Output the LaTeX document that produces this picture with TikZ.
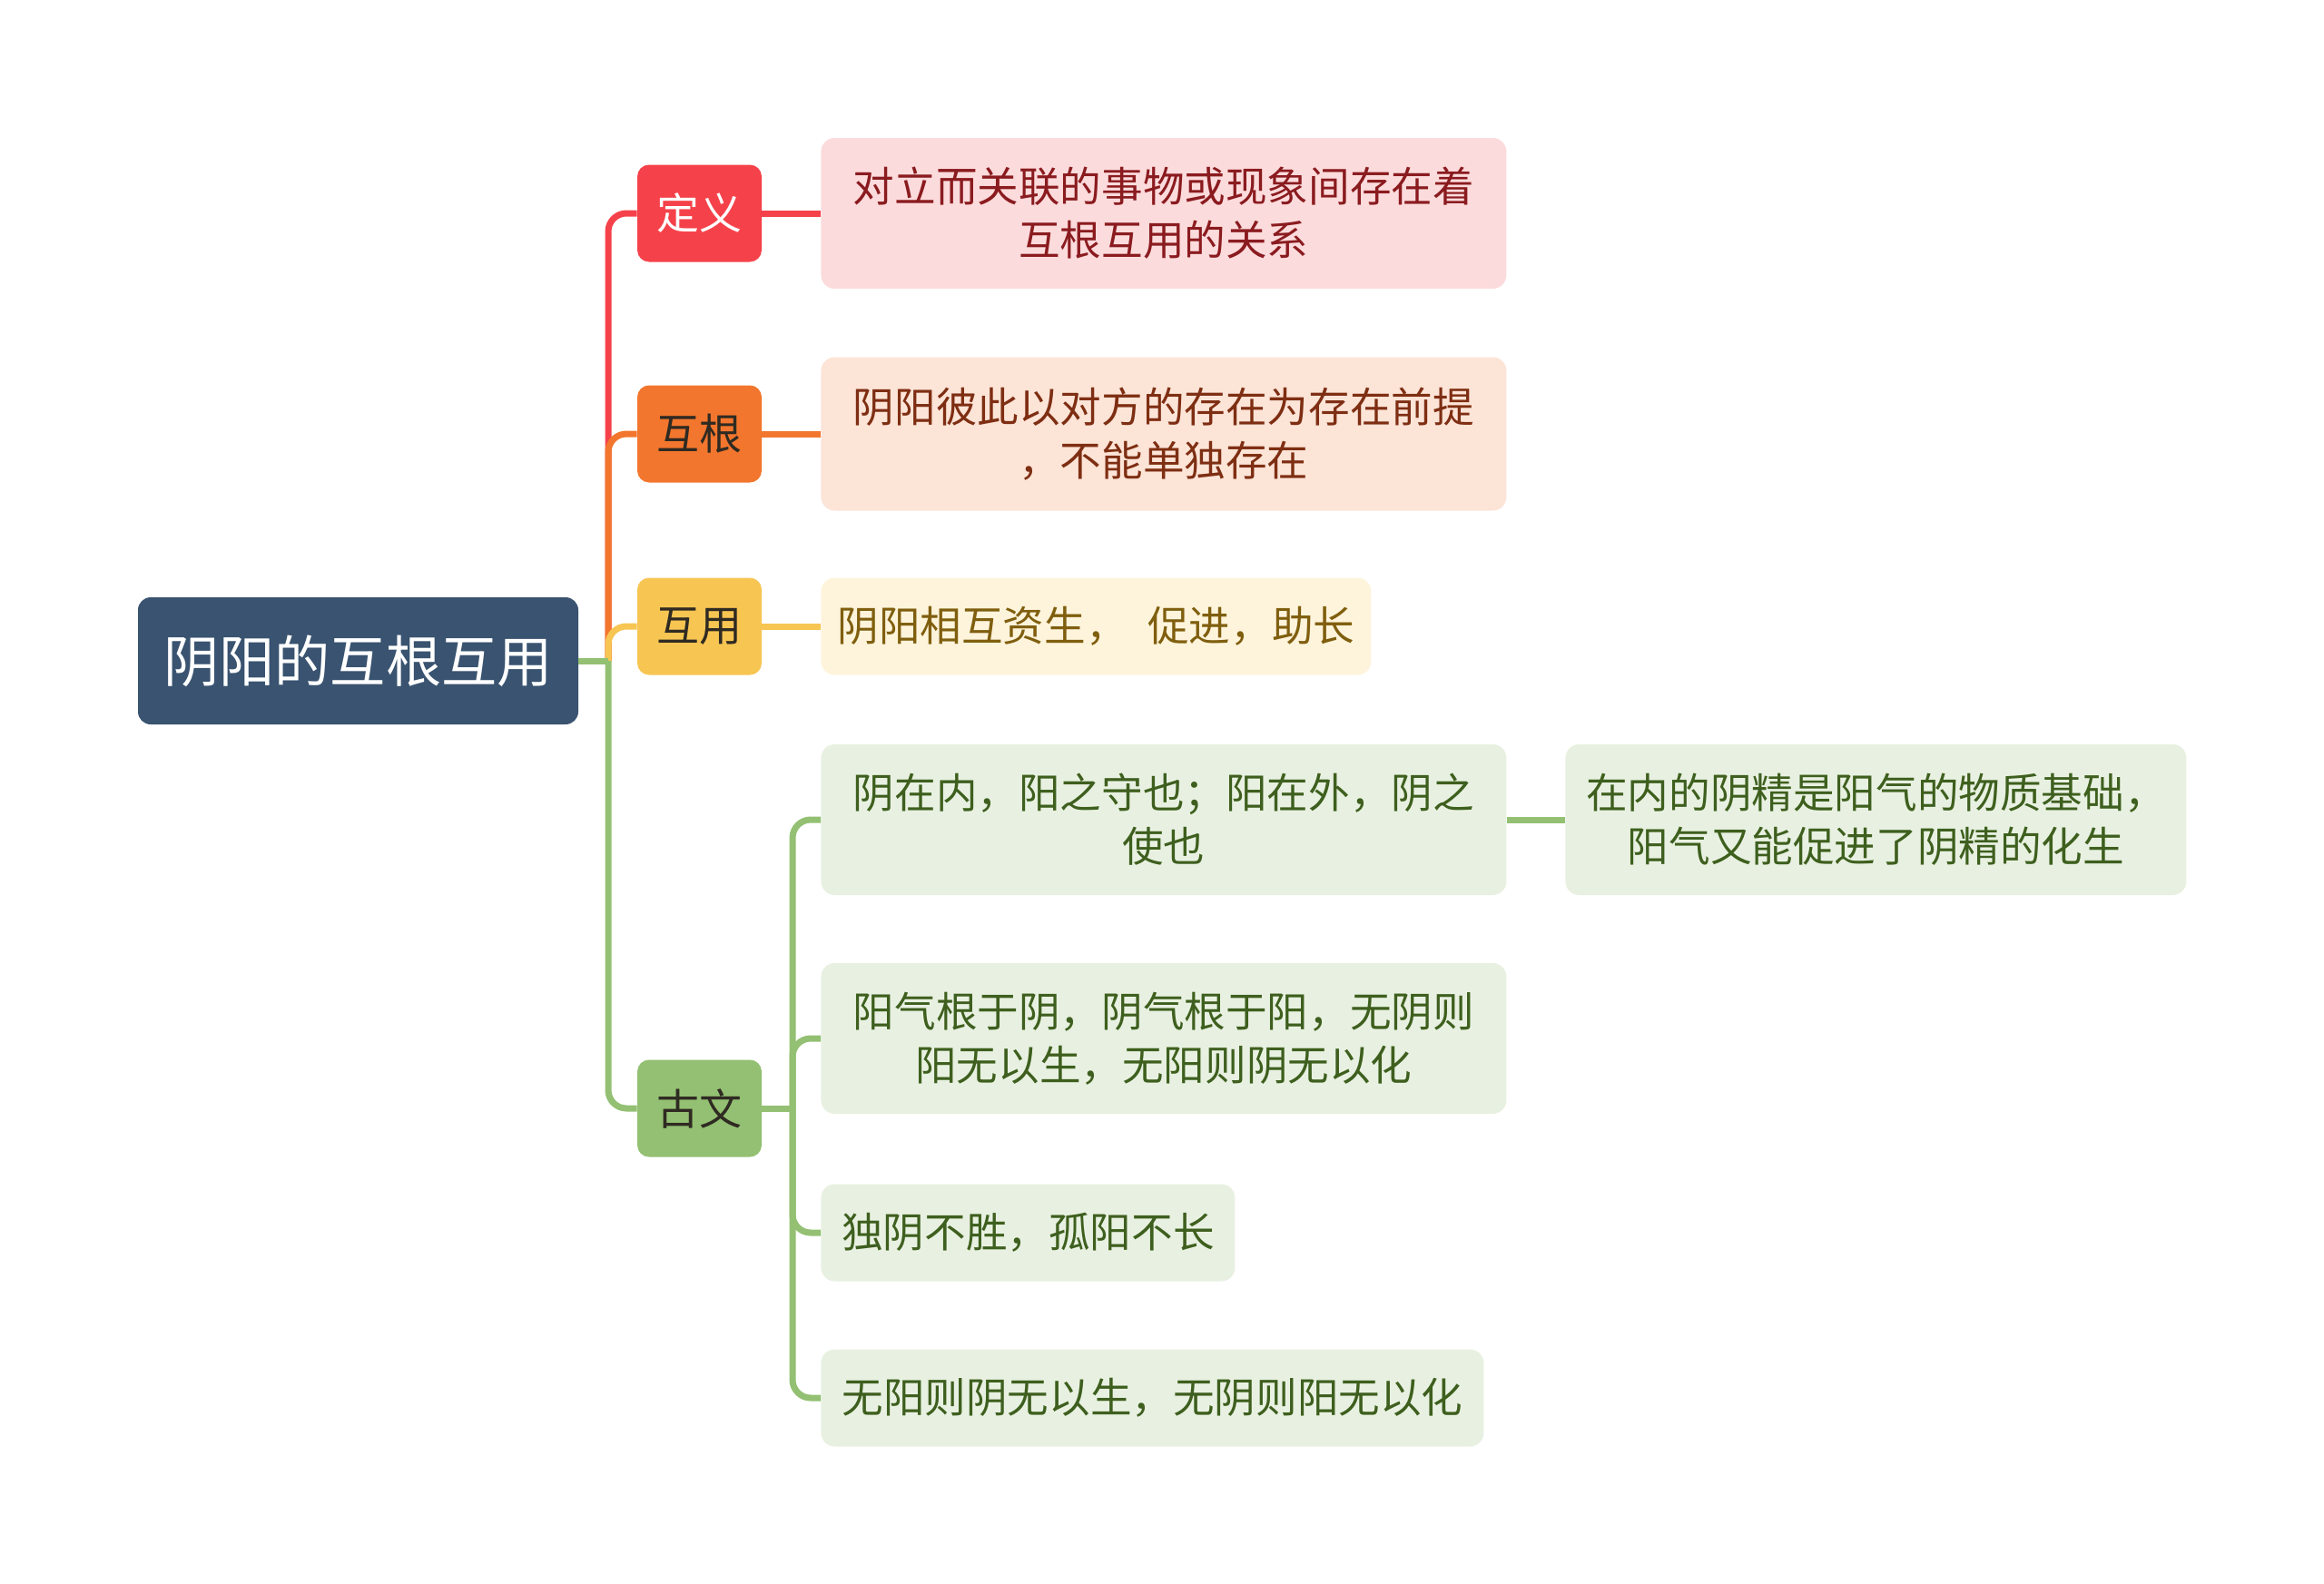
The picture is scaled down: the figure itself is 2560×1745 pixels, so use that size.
\documentclass[tikz,border=0pt]{standalone}
\usepackage{fontspec}
\newfontfamily\cjk{Noto Sans CJK SC}
\usepackage{tikz}
\usetikzlibrary{positioning}
\definecolor{cRoot}{HTML}{395370}
\definecolor{cDark}{HTML}{2F2A22}
\definecolor{cDef}{HTML}{F5424A}
\definecolor{cDefL}{HTML}{FCDBDC}
\definecolor{cDefT}{HTML}{8A1B1F}
\definecolor{cHg}{HTML}{F2762D}
\definecolor{cHgL}{HTML}{FCE4D7}
\definecolor{cHgT}{HTML}{7E2E12}
\definecolor{cHy}{HTML}{F7C552}
\definecolor{cHyL}{HTML}{FEF4DB}
\definecolor{cHyT}{HTML}{7F5E0E}
\definecolor{cGw}{HTML}{93C072}
\definecolor{cGwL}{HTML}{E8F1E1}
\definecolor{cGwT}{HTML}{3E5F1E}

\begin{document}
\begin{tikzpicture}[x=0.5pt,y=-0.5pt,
  rt/.style={rectangle,rounded corners=7pt,fill=cRoot,text=white,minimum width=242.5pt,minimum height=70pt,font=\cjk\fontsize{30.6}{36}\selectfont},
  tp/.style={rectangle,rounded corners=6.5pt,fill=#1,minimum width=68.5pt,minimum height=53.5pt,inner sep=2pt,font=\cjk\fontsize{23.5}{29.5}\selectfont},
  lf/.style 2 args={rectangle,rounded corners=7.5pt,fill=#1,text=#2,anchor=west,align=center,inner sep=2pt,font=\cjk\fontsize{22.8}{29.5}\selectfont},
  ln/.style={draw=#1,line width=3.5pt}]
  \useasboundingbox (0,0) rectangle (2560,1745);
  % root and first level
  \node[rt](root) at (394.5,728){阴阳的互根互用};
  \coordinate (jr) at (670,728);
  \node[tp=cDef,text=white](dy) at (770.5,235){定义};
  \node[tp=cHg,text=cDark](hg) at (770.5,478){互根};
  \node[tp=cHy,text=cDark](hy) at (770.5,690){互用};
  \node[tp=cGw,text=cDark](gw) at (770.5,1221){古文};
  \draw[ln=cDef,rounded corners=10pt](jr)|-(dy.west);
  \draw[ln=cHg,rounded corners=10pt](jr)|-(hg.west);
  \draw[ln=cHy,rounded corners=10pt](jr)|-(hy.west);
  \draw[ln=cGw,rounded corners=10pt](jr)|-(gw.west);
  \draw[ln=cGw](root.east)--(jr);
  % second level
  \node[lf={cDefL}{cDefT},minimum width=377.5pt,minimum height=83pt](dyt) at (904,235){对立而关联的事物或现象间存在着\\互根互用的关系};
  \node[lf={cHgL}{cHgT},minimum width=377.5pt,minimum height=84.5pt](hgt) at (904,478){阴阳彼此以对方的存在为存在前提\\，不能单独存在};
  \node[lf={cHyL}{cHyT},minimum width=303pt,minimum height=53.5pt](hyt) at (904,690){阴阳相互资生，\hspace{0.5em}促进，助长};
  \draw[ln=cDef](dy.east)--(dyt.west);
  \draw[ln=cHg](hg.east)--(hgt.west);
  \draw[ln=cHy](hy.east)--(hyt.west);
  % old texts
  \coordinate (jg) at (873,1221);
  \node[lf={cGwL}{cGwT},minimum width=377.5pt,minimum height=83pt](g1) at (904,903){阴在内，阳之守也；阳在外，阴之\\使也};
  \node[lf={cGwL}{cGwT},minimum width=377.5pt,minimum height=83pt](g2) at (904,1144){阳气根于阴，阴气根于阳，无阴则\\阳无以生，无阳则阴无以化};
  \node[lf={cGwL}{cGwT},minimum width=228pt,minimum height=53.5pt](g3) at (904,1358){独阴不胜，孤阳不长};
  \node[lf={cGwL}{cGwT},minimum width=365pt,minimum height=53.5pt](g4) at (904,1540){无阳则阴无以生，无阴则阳无以化};
  \node[lf={cGwL}{cGwT},minimum width=342pt,minimum height=83pt](g1x) at (1724,903){在内的阴精是阳气的物质基础，\\阳气又能促进了阴精的化生};
  \draw[ln=cGw](gw.east)--(jg);
  \foreach \g in {g1,g2,g3,g4}
    \draw[ln=cGw,rounded corners=10pt](jg)|-(\g.west);
  \draw[ln=cGw](g1.east)--(g1x.west);
\end{tikzpicture}
\end{document}
